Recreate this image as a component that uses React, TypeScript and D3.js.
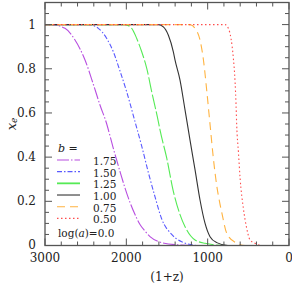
import * as d3 from 'd3';
import { useEffect, useRef } from 'react';

const width = 292;
const height = 285;
const margin = { top: 2.5, right: 3, bottom: 39.5, left: 45 };

// b values shown in the legend
const bLabels = ['1.75', '1.50', '1.25', '1.00', '0.75', '0.50'];
const colors = ['#b84ee0', '#5a5aff', '#55ea55', '#333333', '#ffb340', '#ff4d4d'];
const dashes = ['12 2 1.5 2', '5 2 1.5 2', '15 2.5', null, '8 5', '1.5 2.5'];

// (1+z) and x_e
const z175 = [3000, 2918, 2754, 2631, 2508, 2406, 2323, 2241, 2200, 2160, 2078, 2016, 1955, 1893, 1832, 1770, 1709, 1606, 1401, 1094, 0];
const xe175 = [1, 1, 0.983, 0.93, 0.84, 0.73, 0.635, 0.55, 0.495, 0.44, 0.335, 0.26, 0.195, 0.14, 0.095, 0.065, 0.04, 0.018, 0.004, 0, 0];

const z150 = [3000, 2467, 2344, 2241, 2160, 2078, 1995, 1893, 1811, 1729, 1647, 1565, 1442, 1319, 1118, 0];
const xe150 = [1, 1, 0.983, 0.937, 0.877, 0.79, 0.695, 0.56, 0.45, 0.33, 0.22, 0.12, 0.05, 0.017, 0, 0];

const z125 = [3000, 2016, 1934, 1872, 1811, 1749, 1688, 1606, 1586, 1503, 1422, 1340, 1278, 1155, 1032, 786, 0];
const xe125 = [1, 1, 0.983, 0.937, 0.877, 0.802, 0.696, 0.56, 0.523, 0.395, 0.245, 0.14, 0.085, 0.025, 0.01, 0, 0];

const z100 = [3000, 1606, 1545, 1483, 1422, 1401, 1340, 1278, 1217, 1155, 1094, 1032, 971, 888, 750, 0];
const xe100 = [1, 1, 0.99, 0.952, 0.877, 0.839, 0.749, 0.613, 0.477, 0.342, 0.206, 0.1, 0.04, 0.013, 0, 0];

const z075 = [3000, 1217, 1155, 1094, 1053, 1011, 970, 930, 888, 855, 827, 765, 663, 540, 0];
const xe075 = [1, 1, 0.983, 0.93, 0.843, 0.7, 0.545, 0.395, 0.27, 0.2, 0.15, 0.055, 0.015, 0, 0];

const z050 = [3000, 786, 746, 713, 684, 663, 651, 643, 622, 601, 561, 520, 479, 418, 331, 0];
const xe050 = [1, 1, 0.983, 0.937, 0.847, 0.741, 0.636, 0.545, 0.424, 0.304, 0.168, 0.078, 0.025, 0.01, 0, 0];

const zSeries = [z175, z150, z125, z100, z075, z050];
const xeSeries = [xe175, xe150, xe125, xe100, xe075, xe050];

const xTickLabels = [3000, 2000, 1000, 0];
const yTickLabels = [0, 0.2, 0.4, 0.6, 0.8, 1];

const font = 'DejaVu Serif';

function App() {
  const ref = useRef<SVGSVGElement>(null);

  useEffect(() => {
    const svg = d3.select(ref.current);
    svg.selectAll('*').remove();

    const x0 = margin.left;
    const x1 = width - margin.right;
    const y0 = height - margin.bottom;
    const y1 = margin.top;

    const x = d3.scaleLinear().domain([3000, 0]).range([x0, x1]);
    const y = d3.scaleLinear().domain([0, 1.1]).range([y0, y1]);

    const axisColor = '#555';

    // curves
    const line = d3
      .line<[number, number]>()
      .x((d) => x(d[0]))
      .y((d) => y(d[1]))
      .curve(d3.curveMonotoneX);

    zSeries.forEach((zs, i) => {
      const pts = zs.map((z, j) => [z, xeSeries[i][j]] as [number, number]);
      svg
        .append('path')
        .attr('d', line(pts))
        .attr('fill', 'none')
        .attr('stroke', colors[i])
        .attr('stroke-width', 1.1)
        .attr('stroke-dasharray', dashes[i]);
    });

    // frame
    svg
      .append('rect')
      .attr('x', x0)
      .attr('y', y1)
      .attr('width', x1 - x0)
      .attr('height', y0 - y1)
      .attr('fill', 'none')
      .attr('stroke', axisColor)
      .attr('stroke-width', 1.3);

    // ticks on all four sides
    const g = svg.append('g').attr('stroke', axisColor).attr('stroke-width', 1);
    d3.range(0, 3001, 200).forEach((v) => {
      const len = v % 1000 === 0 ? 7 : 4;
      g.append('line').attr('x1', x(v)).attr('x2', x(v)).attr('y1', y0).attr('y2', y0 - len);
      g.append('line').attr('x1', x(v)).attr('x2', x(v)).attr('y1', y1).attr('y2', y1 + len);
    });
    d3.range(0, 22).forEach((k) => {
      const v = k * 0.05;
      const len = k % 4 === 0 ? 7 : 4;
      g.append('line').attr('y1', y(v)).attr('y2', y(v)).attr('x1', x0).attr('x2', x0 + len);
      g.append('line').attr('y1', y(v)).attr('y2', y(v)).attr('x1', x1).attr('x2', x1 - len);
    });

    // tick labels
    svg
      .append('g')
      .selectAll('text')
      .data(xTickLabels)
      .join('text')
      .attr('x', (d) => x(d))
      .attr('y', y0 + 12.5)
      .attr('text-anchor', 'middle')
      .attr('dominant-baseline', 'central')
      .attr('font-family', font)
      .attr('font-size', 12)
      .attr('fill', '#222')
      .text((d) => String(d));

    svg
      .append('g')
      .selectAll('text')
      .data(yTickLabels)
      .join('text')
      .attr('x', x0 - 9)
      .attr('y', (d) => (d === 0 ? y(d) - 1 : y(d)))
      .attr('text-anchor', 'end')
      .attr('dominant-baseline', 'central')
      .attr('font-family', font)
      .attr('font-size', 12)
      .attr('fill', '#222')
      .text((d) => String(d));

    // axis titles
    svg
      .append('text')
      .attr('x', (x0 + x1) / 2)
      .attr('y', 276.5)
      .attr('text-anchor', 'middle')
      .attr('dominant-baseline', 'central')
      .attr('font-family', font)
      .attr('font-size', 12)
      .attr('fill', '#222')
      .text('(1+z)');

    const yl = svg
      .append('text')
      .attr('transform', `translate(11, ${(y0 + y1) / 2}) rotate(-90)`)
      .attr('text-anchor', 'middle')
      .attr('dominant-baseline', 'central')
      .attr('font-family', font)
      .attr('font-size', 13)
      .attr('font-style', 'italic')
      .attr('fill', '#222');
    yl.append('tspan').text('x');
    yl.append('tspan').attr('font-size', 9).attr('dy', 3).text('e');

    // legend
    const lg = svg.append('g').attr('font-family', font).attr('font-size', 10.5).attr('fill', '#222');
    const bt = lg.append('text').attr('x', 58).attr('y', 148).attr('dominant-baseline', 'central').attr('font-size', 11);
    bt.append('tspan').attr('font-style', 'italic').text('b');
    bt.append('tspan').text('  =');

    bLabels.forEach((lab, i) => {
      const ry = 160 + i * 11.67;
      lg.append('line')
        .attr('x1', 57)
        .attr('x2', 80)
        .attr('y1', ry)
        .attr('y2', ry)
        .attr('stroke', colors[i])
        .attr('stroke-width', i === 2 ? 1.8 : 1.1)
        .attr('stroke-dasharray', i === 2 ? null : dashes[i]);
      lg.append('text')
        .attr('x', 93)
        .attr('y', ry + 1)
        .attr('dominant-baseline', 'central')
        .text(lab);
    });

    const lt = lg.append('text').attr('x', 58).attr('y', 233).attr('dominant-baseline', 'central');
    lt.append('tspan').text('log(');
    lt.append('tspan').attr('font-style', 'italic').text('a');
    lt.append('tspan').text(')=0.0');
  }, []);

  return (
    <svg
      ref={ref}
      width={width}
      height={height}
      style={{ position: 'absolute', left: 0, top: 0, background: '#fff' }}
    />
  );
}

export default App;
